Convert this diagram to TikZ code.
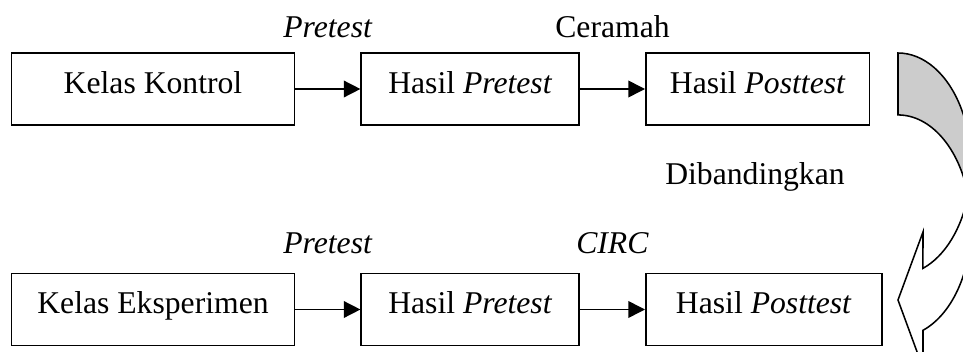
\documentclass[tikz,border=0pt]{standalone}
\usepackage{fontspec}
\setmainfont{Liberation Serif}
\usetikzlibrary{positioning, arrows.meta}

\begin{document}
\begin{tikzpicture}[-,>={Triangle[length=6pt,width=6pt]},x=0.36pt,y=0.36pt,
      line width=0.55pt,
      main node/.style={rectangle,draw,minimum height=26pt,inner sep=0pt,text height=8pt,text depth=4.8pt,font=\fontsize{11.4}{13.7}\selectfont},
      other node/.style={anchor=base,inner sep=0pt,font=\fontsize{11.4}{13.7}\selectfont}]
    \clip (0,0) rectangle (963,351);

        \node[main node, minimum width=102pt] (1) at (153,262) {Kelas Kontrol};
        \node[main node, minimum width=78.5pt] (2) [right=23.4pt of 1] {Hasil \textit{Pretest}};
        \node[main node, minimum width=80.6pt] (3) [right=23.4pt of 2] {Hasil \textit{Posttest}};
        \node[main node, minimum width=102pt] (4) at (153,41.5) {Kelas Eksperimen};
        \node[main node, minimum width=78.5pt] (5) [right=23.4pt of 4] {Hasil \textit{Pretest}};
        \node[main node, minimum width=85pt] (6) [right=23.4pt of 5] {Hasil \textit{Posttest}};
        \node[other node] (7) at (755,166) {Dibandingkan};

        \path[->]
            (1) edge node [other node, yshift=18.7pt]{\textit{Pretest}} (2)
            (2) edge node [other node, yshift=18.7pt]{Ceramah} (3)
            (4) edge node [other node, yshift=20.3pt]{\textit{Pretest}} (5)
            (5) edge node [other node, yshift=20.3pt]{\textit{CIRC}} (6)
        ;

        \draw[fill=black!20] (898,298)
            arc[start angle=90, end angle=-16.2, x radius=26.28pt, y radius=39.96pt]
            arc[start angle=16.2, end angle=90, x radius=26.28pt, y radius=39.96pt] -- cycle;
        \draw[fill=white] (968.1,156)
            arc[start angle=-16.2, end angle=-70, x radius=26.28pt, y radius=39.96pt]
            -- (923,119) -- (898,51) -- (923,-17) -- (923,20.7)
            arc[start angle=-70, end angle=16.2, x radius=26.28pt, y radius=39.96pt] -- cycle;
    \end{tikzpicture}
\end{document}
